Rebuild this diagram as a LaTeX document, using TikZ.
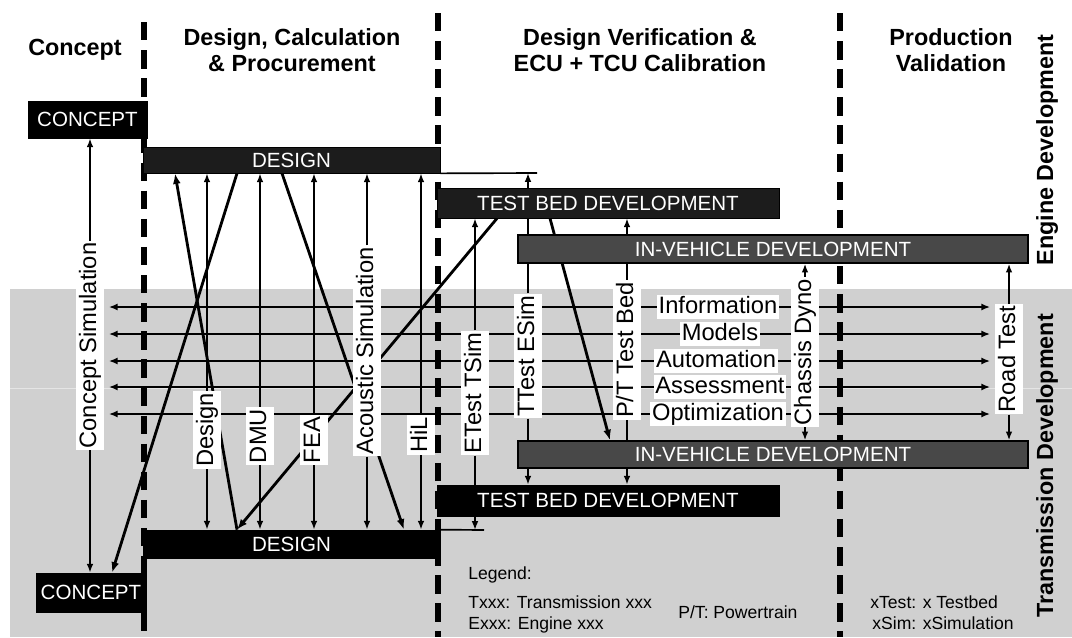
\documentclass[tikz,border=0pt]{standalone}
\usepackage{fontspec}
\setmainfont{Liberation Sans}
\usepackage{tikz}
\usetikzlibrary{arrows.meta,backgrounds}
\definecolor{BandGray}{RGB}{208,208,208}
\definecolor{BoxDark}{RGB}{28,28,28}
\definecolor{BoxMid}{RGB}{72,72,72}

\begin{document}
\begin{tikzpicture}[x=0.02cm, y=-0.02cm,
                % Style of the black phase boxes
                blackbox/.style={rectangle, fill=black, draw=black, text=white, font=\fontsize{11.7}{14}\selectfont, inner sep=0pt},
                darkbox/.style={blackbox, fill=BoxDark},
                % Style of the grey in-vehicle boxes
                greybox/.style={blackbox, fill=BoxMid, line width=0.8pt},
                % Style of the rotated activity labels
                vlabel/.style={rotate=90, fill=white, font=\fontsize{13.5}{16}\selectfont, text height=10pt, text depth=3pt, inner xsep=1pt, inner ysep=1.5pt},
                % Style of the exchange labels
                hlabel/.style={fill=white, font=\fontsize{13.5}{16}\selectfont, text height=10pt, text depth=3pt, inner xsep=1pt, inner ysep=0.5pt},
                % Style of the connectors
                link/.style={draw, line width=0.95pt, -{Latex[length=5pt,width=3.8pt]}},
                thinline/.style={draw, line width=0.95pt},
                flow/.style={draw, line width=1.2pt, {Latex[length=5pt,width=4pt]}-{Latex[length=5pt,width=4pt]}, shorten <=2.5pt, shorten >=2.5pt},
                diag/.style={draw, line width=1.6pt, -{Latex[length=6pt,width=4.5pt]}},
                % Style of the phase dividers
                divider/.style={line width=3.2pt, dash pattern=on 10.5pt off 5.5pt},
                % Style of the headings
                phasetitle/.style={font=\bfseries\fontsize{13.3}{15}\selectfont, align=center},
                legendtext/.style={font=\fontsize{10}{12}\selectfont, anchor=west, inner sep=0pt}
            ]
                \useasboundingbox (0,0) rectangle (1072,637);

                % --- BACKGROUND AND DIVIDERS ---
                \begin{scope}[on background layer]
                    \fill[BandGray] (10,289) rectangle (1072,637);
                    \draw[white!45!BandGray, line width=0.5pt] (10,388) -- (1072,388);
                    \draw[divider] (144,22) -- (144,637);
                    \draw[divider] (438,13) -- (438,637);
                    \draw[divider] (840,13) -- (840,637);
                \end{scope}

                % --- HEADINGS ---
                \node[phasetitle] (ttlconcept) at (75,50) {Concept};
                \node[phasetitle] (ttldesign) at (292,50) {Design, Calculation\\\& Procurement};
                \node[phasetitle] (ttlverif) at (640,50) {Design Verification \&\\ECU + TCU Calibration};
                \node[phasetitle] (ttlprod) at (951,50) {Production\\Validation};
                \node[phasetitle, rotate=90] (ttlengine) at (1047,150) {Engine Development};
                \node[phasetitle, rotate=90] (ttltrans) at (1047,466) {Transmission Development};

                % --- PHASE BOXES ---
                % Engine side
                \node[blackbox, minimum width=2.38cm, minimum height=0.74cm] (concepttop) at (87.5,119.5) {CONCEPT};
                \node[darkbox, minimum width=5.94cm, minimum height=0.52cm] (designtop) at (291.5,160) {DESIGN};
                \node[darkbox, minimum width=6.84cm, minimum height=0.6cm] (testtop) at (608,203) {TEST BED DEVELOPMENT};
                \node[greybox, minimum width=10.2cm, minimum height=0.56cm] (vehtop) at (773,249) {IN-VEHICLE DEVELOPMENT};
                % Transmission side
                \node[greybox, minimum width=10.2cm, minimum height=0.54cm] (vehbot) at (773,454.5) {IN-VEHICLE DEVELOPMENT};
                \node[blackbox, minimum width=6.84cm, minimum height=0.62cm] (testbot) at (608,500.5) {TEST BED DEVELOPMENT};
                \node[blackbox, minimum width=5.94cm, minimum height=0.56cm] (designbot) at (291.5,544) {DESIGN};
                \node[blackbox, minimum width=2.2cm, minimum height=0.78cm] (conceptbot) at (91,592.5) {CONCEPT};

                % --- ACTIVITY LABELS ---
                \node[vlabel] (lblcsim) at (90,345.5) {Concept Simulation};
                \node[vlabel] (lbldesign) at (207,430) {Design};
                \node[vlabel] (lbldmu) at (260,436) {DMU};
                \node[vlabel] (lblfea) at (314,440) {FEA};
                \node[vlabel] (lblacoustic) at (367,351) {Acoustic Simulation};
                \node[vlabel] (lblhil) at (421,435) {HiL};
                \node[vlabel] (lbletest) at (475,393) {ETest TSim};
                \node[vlabel] (lblttest) at (528,356) {TTest ESim};
                \node[vlabel] (lblpt) at (627,350) {P/T Test Bed};
                \node[vlabel] (lblchassis) at (805,352) {Chassis Dyno};
                \node[vlabel] (lblroad) at (1009,359) {Road Test};

                \node[hlabel] (lblinfo) at (718,307) {Information};
                \node[hlabel] (lblmodels) at (720,334) {Models};
                \node[hlabel] (lblauto) at (716,361) {Automation};
                \node[hlabel] (lblassess) at (720,387) {Assessment};
                \node[hlabel] (lblopt) at (718,414) {Optimization};

                % Ends of the short edge lines
                \coordinate (ttestend) at (537,173);
                \coordinate (etestend) at (484,530);

                % --- CONNECTORS ---
                \begin{scope}[on background layer]
                    \draw[thinline] (designtop.south east) -- (ttestend);
                    \draw[thinline] (designbot.north east) -- (etestend);

                    \draw[link] (lblcsim.east) -- (concepttop.south -| lblcsim.east);
                    \draw[link] (lblcsim.west) -- (conceptbot.north -| lblcsim.west);
                    \foreach \lbl in {lbldesign, lbldmu, lblfea, lblacoustic, lblhil} {
                        \draw[link] (\lbl.east) -- (designtop.south -| \lbl.east);
                        \draw[link] (\lbl.west) -- (designbot.north -| \lbl.west);
                    }
                    \draw[link] (lbletest.east) -- (testtop.south -| lbletest.east);
                    \draw[link] (lbletest.west) -- (etestend -| lbletest.west);
                    \draw[link] (lblttest.east) -- (ttestend -| lblttest.east);
                    \draw[link] (lblttest.west) -- (testbot.north -| lblttest.west);
                    \draw[link] (lblpt.east) -- (testtop.south -| lblpt.east);
                    \draw[link] (lblpt.west) -- (testbot.north -| lblpt.west);
                    \draw[link] (lblchassis.east) -- (vehtop.south -| lblchassis.east);
                    \draw[link] (lblchassis.west) -- (vehbot.north -| lblchassis.west);
                    \draw[link] (lblroad.east) -- (vehtop.south -| lblroad.east);
                    \draw[link] (lblroad.west) -- (vehbot.north -| lblroad.west);

                    % exchange lines between the two columns
                    \foreach \lbl in {lblinfo, lblmodels, lblauto, lblassess, lblopt}
                        \draw[flow] (lblcsim.south |- \lbl) -- (lblroad.north |- \lbl);

                    % crossing lines
                    \draw[diag] (designbot.north -| 237,0) -- (designtop.south -| 175,0);
                    \draw[diag] (designtop.south -| 237,0) -- (conceptbot.north -| 112,0);
                    \draw[diag] (designtop.south -| 282,0) -- (designbot.north -| 404,0);
                    \draw[diag] (testtop.south -| 497,0) -- (designbot.north -| 237,0);
                    \draw[diag] (testtop.south -| 550,0) -- (vehbot.north -| 610,0);
                \end{scope}

                % --- LEGEND ---
                \node[legendtext] (leghead) at (468,575) {Legend:};
                \node[legendtext] (legtrans) at (468,602) {Txxx: Transmission xxx};
                \node[legendtext] (legengine) at (468,625) {Exxx: Engine xxx};
                \node[legendtext] (legpt) at (678,612) {P/T: Powertrain};
                \node[legendtext] (legtest) at (870,602) {xTest: x Testbed};
                \node[legendtext] (legsim) at (872,623) {xSim: xSimulation};

            \end{tikzpicture}
\end{document}
